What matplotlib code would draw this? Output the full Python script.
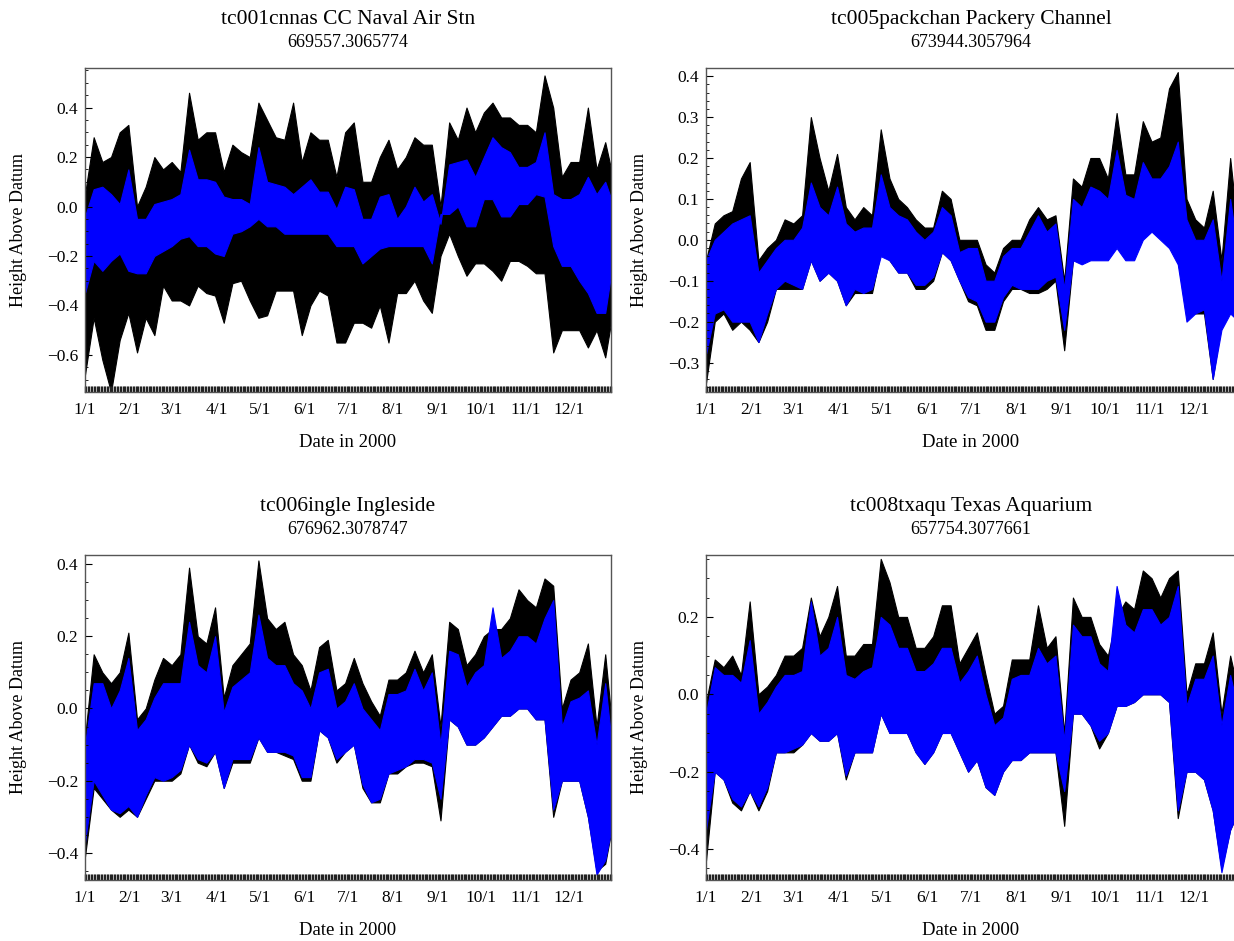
import numpy as np
import matplotlib
matplotlib.use("Agg")
import matplotlib.pyplot as plt
import matplotlib.dates as mdates
from matplotlib.ticker import MultipleLocator, FuncFormatter

plt.rcParams['font.family'] = ['Liberation Serif', 'DejaVu Serif']

# sample days (every 6 days from 1 Jan 2000), envelopes
days = np.arange(0, 367, 6)

stations = ["tc001cnnas CC Naval Air Stn", "tc005packchan Packery Channel",
            "tc006ingle Ingleside", "tc008txaqu Texas Aquarium"]
coords = ["669557.3065774", "673944.3057964", "676962.3078747", "657754.3077661"]

# --- tc001 ---
cc_black_hi = [0.05, 0.28, 0.18, 0.2, 0.3, 0.33, 0.0, 0.08, 0.2, 0.15, 0.18, 0.14, 0.46, 0.27,
               0.3, 0.3, 0.14, 0.25, 0.22, 0.2, 0.42, 0.35, 0.28, 0.27, 0.42, 0.18, 0.3, 0.27,
               0.27, 0.12, 0.3, 0.34, 0.1, 0.1, 0.2, 0.27, 0.15, 0.2, 0.28, 0.25, 0.25, 0.0,
               0.34, 0.27, 0.4, 0.3, 0.38, 0.42, 0.36, 0.36, 0.33, 0.33, 0.3, 0.53, 0.4, 0.12,
               0.18, 0.18, 0.4, 0.15, 0.26, 0.1]
cc_black_lo = [-0.68, -0.45, -0.62, -0.75, -0.54, -0.43, -0.59, -0.45, -0.52, -0.32, -0.38, -0.38,
               -0.4, -0.32, -0.35, -0.36, -0.47, -0.31, -0.3, -0.38, -0.45, -0.44, -0.34, -0.34,
               -0.34, -0.52, -0.4, -0.34, -0.36, -0.55, -0.55, -0.47, -0.47, -0.49, -0.4, -0.55,
               -0.35, -0.35, -0.3, -0.38, -0.43, -0.2, -0.11, -0.2, -0.28, -0.23, -0.23, -0.26,
               -0.3, -0.22, -0.22, -0.24, -0.27, -0.27, -0.59, -0.5, -0.5, -0.5, -0.57, -0.5,
               -0.61, -0.4]
cc_blue_hi = [-0.04, 0.07, 0.08, 0.05, 0.01, 0.15, -0.05, -0.05, 0.01, 0.02, 0.03, 0.05, 0.23, 0.11,
              0.11, 0.1, 0.04, 0.03, 0.03, 0.01, 0.24, 0.1, 0.09, 0.08, 0.05, 0.08, 0.11, 0.06,
              0.06, -0.01, 0.08, 0.07, -0.05, -0.05, 0.04, 0.05, -0.05, 0.0, 0.08, 0.02, 0.05,
              -0.07, 0.17, 0.18, 0.19, 0.12, 0.2, 0.28, 0.24, 0.22, 0.16, 0.16, 0.18, 0.3, 0.05,
              0.03, 0.03, 0.05, 0.12, 0.05, 0.1, 0.0]
cc_blue_lo = [-0.35, -0.22, -0.26, -0.22, -0.19, -0.26, -0.27, -0.27, -0.2, -0.18, -0.16, -0.13,
              -0.12, -0.16, -0.16, -0.19, -0.2, -0.11, -0.1, -0.08, -0.05, -0.08, -0.08, -0.11,
              -0.11, -0.11, -0.11, -0.11, -0.11, -0.16, -0.16, -0.16, -0.23, -0.2, -0.17, -0.16,
              -0.16, -0.16, -0.16, -0.16, -0.23, -0.03, -0.03, 0.0, -0.08, -0.08, 0.03, 0.03,
              -0.04, -0.04, 0.01, 0.01, 0.05, 0.04, -0.16, -0.24, -0.24, -0.3, -0.35, -0.43,
              -0.43, -0.2]

# --- tc005 ---
pc_black_hi = [-0.05, 0.04, 0.06, 0.07, 0.15, 0.19, -0.05, -0.02, 0.0, 0.05, 0.04, 0.06, 0.3, 0.2,
               0.12, 0.21, 0.08, 0.05, 0.08, 0.06, 0.27, 0.15, 0.1, 0.08, 0.05, 0.03, 0.03, 0.12,
               0.1, 0.0, 0.0, 0.0, -0.06, -0.08, -0.02, 0.0, 0.0, 0.05, 0.08, 0.05, 0.06, -0.1,
               0.15, 0.13, 0.2, 0.2, 0.15, 0.31, 0.16, 0.16, 0.29, 0.24, 0.25, 0.37, 0.41, 0.1,
               0.05, 0.03, 0.12, -0.05, 0.2, 0.0]
pc_black_lo = [-0.35, -0.2, -0.18, -0.22, -0.2, -0.22, -0.25, -0.2, -0.12, -0.12, -0.12, -0.12,
               -0.05, -0.1, -0.08, -0.1, -0.16, -0.13, -0.13, -0.13, -0.03, -0.05, -0.08, -0.08,
               -0.12, -0.12, -0.1, -0.03, -0.05, -0.1, -0.15, -0.16, -0.22, -0.22, -0.15, -0.12,
               -0.12, -0.13, -0.13, -0.12, -0.1, -0.27, -0.05, -0.05, -0.03, -0.03, -0.04, 0.0,
               -0.04, -0.04, 0.03, 0.04, 0.03, 0.0, -0.05, -0.18, -0.18, -0.18, -0.34, -0.2,
               -0.15, -0.15]
pc_blue_hi = [-0.05, 0.0, 0.02, 0.04, 0.05, 0.06, -0.08, -0.05, -0.02, 0.0, 0.0, 0.03, 0.14, 0.08,
              0.06, 0.13, 0.04, 0.02, 0.03, 0.03, 0.16, 0.08, 0.06, 0.05, 0.02, 0.0, 0.02, 0.08,
              0.06, -0.03, -0.02, -0.02, -0.1, -0.1, -0.04, -0.02, -0.02, 0.02, 0.06, 0.02, 0.04,
              -0.12, 0.1, 0.08, 0.13, 0.12, 0.1, 0.22, 0.11, 0.1, 0.19, 0.15, 0.15, 0.18, 0.24,
              0.05, 0.0, 0.0, 0.05, -0.1, 0.1, -0.05]
pc_blue_lo = [-0.28, -0.18, -0.17, -0.2, -0.2, -0.2, -0.25, -0.18, -0.12, -0.1, -0.11, -0.12,
              -0.05, -0.1, -0.08, -0.1, -0.16, -0.12, -0.13, -0.12, -0.04, -0.05, -0.08, -0.08,
              -0.11, -0.11, -0.09, -0.03, -0.05, -0.1, -0.14, -0.15, -0.2, -0.2, -0.14, -0.11,
              -0.12, -0.12, -0.12, -0.1, -0.09, -0.22, -0.05, -0.06, -0.05, -0.05, -0.05, -0.02,
              -0.05, -0.05, 0.0, 0.02, 0.0, -0.02, -0.06, -0.2, -0.18, -0.17, -0.34, -0.22,
              -0.18, -0.2]

# --- tc006 ---
ig_black_hi = [-0.08, 0.15, 0.1, 0.07, 0.1, 0.21, -0.03, 0.0, 0.08, 0.14, 0.12, 0.15, 0.39, 0.2,
               0.18, 0.28, 0.03, 0.12, 0.15, 0.18, 0.41, 0.25, 0.22, 0.24, 0.15, 0.12, 0.05, 0.17,
               0.19, 0.05, 0.07, 0.14, 0.07, 0.02, -0.02, 0.08, 0.08, 0.1, 0.16, 0.1, 0.15, -0.05,
               0.24, 0.22, 0.12, 0.15, 0.2, 0.22, 0.22, 0.25, 0.33, 0.3, 0.28, 0.36, 0.34, 0.0,
               0.08, 0.1, 0.18, -0.05, 0.15, -0.1]
ig_black_lo = [-0.41, -0.22, -0.25, -0.28, -0.3, -0.28, -0.3, -0.25, -0.2, -0.2, -0.2, -0.18,
               -0.1, -0.15, -0.16, -0.12, -0.22, -0.15, -0.15, -0.15, -0.08, -0.12, -0.12, -0.13,
               -0.14, -0.2, -0.2, -0.06, -0.08, -0.15, -0.12, -0.1, -0.22, -0.26, -0.26, -0.18,
               -0.18, -0.16, -0.15, -0.15, -0.16, -0.31, -0.03, -0.05, -0.1, -0.1, -0.08, -0.05,
               -0.02, -0.02, 0.0, 0.0, -0.03, -0.03, -0.3, -0.2, -0.2, -0.2, -0.3, -0.45, -0.43,
               -0.3]
ig_blue_hi = [-0.1, 0.07, 0.07, 0.0, 0.05, 0.14, -0.06, -0.03, 0.03, 0.07, 0.07, 0.07, 0.24, 0.12,
              0.1, 0.2, -0.01, 0.06, 0.08, 0.1, 0.26, 0.14, 0.12, 0.12, 0.07, 0.05, 0.0, 0.1,
              0.11, 0.0, 0.02, 0.07, 0.0, -0.03, -0.06, 0.04, 0.04, 0.05, 0.11, 0.05, 0.1, -0.1,
              0.16, 0.15, 0.06, 0.1, 0.12, 0.28, 0.14, 0.16, 0.2, 0.2, 0.18, 0.25, 0.3, -0.05,
              0.02, 0.03, 0.05, -0.1, 0.07, -0.15]
ig_blue_lo = [-0.37, -0.2, -0.24, -0.28, -0.29, -0.27, -0.3, -0.24, -0.19, -0.2, -0.19, -0.17,
              -0.1, -0.14, -0.15, -0.12, -0.22, -0.14, -0.14, -0.14, -0.08, -0.12, -0.12, -0.12,
              -0.13, -0.19, -0.19, -0.06, -0.08, -0.14, -0.12, -0.1, -0.21, -0.26, -0.25, -0.18,
              -0.17, -0.16, -0.14, -0.14, -0.15, -0.25, -0.03, -0.05, -0.1, -0.1, -0.08, -0.05,
              -0.02, -0.02, 0.0, 0.0, -0.03, -0.03, -0.28, -0.2, -0.2, -0.2, -0.3, -0.46, -0.42,
              -0.3]

# --- tc008 ---
ta_black_hi = [-0.02, 0.09, 0.07, 0.1, 0.05, 0.24, 0.0, 0.02, 0.05, 0.1, 0.1, 0.12, 0.25, 0.15,
               0.2, 0.28, 0.1, 0.1, 0.13, 0.13, 0.35, 0.29, 0.2, 0.2, 0.12, 0.12, 0.15, 0.23, 0.23,
               0.08, 0.12, 0.16, 0.05, -0.05, -0.03, 0.09, 0.09, 0.09, 0.23, 0.12, 0.15, -0.1,
               0.25, 0.2, 0.2, 0.13, 0.1, 0.2, 0.24, 0.22, 0.32, 0.3, 0.25, 0.3, 0.32, 0.0, 0.08,
               0.08, 0.16, -0.05, 0.1, 0.0]
ta_black_lo = [-0.43, -0.2, -0.22, -0.28, -0.3, -0.25, -0.3, -0.25, -0.15, -0.15, -0.15, -0.13,
               -0.1, -0.12, -0.12, -0.1, -0.22, -0.15, -0.15, -0.15, -0.05, -0.1, -0.1, -0.1,
               -0.15, -0.18, -0.15, -0.1, -0.1, -0.15, -0.2, -0.17, -0.24, -0.26, -0.2, -0.17,
               -0.17, -0.15, -0.15, -0.15, -0.15, -0.34, -0.05, -0.05, -0.08, -0.14, -0.1, -0.03,
               -0.03, -0.02, 0.0, 0.0, 0.0, -0.02, -0.32, -0.2, -0.2, -0.22, -0.3, -0.45, -0.35,
               -0.3]
ta_blue_hi = [-0.05, 0.07, 0.05, 0.05, 0.03, 0.14, -0.05, -0.02, 0.02, 0.05, 0.05, 0.06, 0.24, 0.1,
              0.12, 0.2, 0.05, 0.04, 0.06, 0.07, 0.2, 0.18, 0.12, 0.12, 0.06, 0.06, 0.08, 0.12,
              0.12, 0.03, 0.06, 0.1, 0.0, -0.08, -0.06, 0.04, 0.05, 0.05, 0.12, 0.08, 0.1, -0.12,
              0.18, 0.15, 0.15, 0.08, 0.06, 0.28, 0.18, 0.16, 0.22, 0.22, 0.18, 0.2, 0.28, -0.03,
              0.04, 0.04, 0.1, -0.08, 0.05, -0.05]
ta_blue_lo = [-0.35, -0.2, -0.22, -0.27, -0.29, -0.25, -0.29, -0.24, -0.15, -0.15, -0.14, -0.13,
              -0.1, -0.12, -0.12, -0.1, -0.21, -0.15, -0.15, -0.15, -0.05, -0.1, -0.1, -0.1,
              -0.15, -0.18, -0.15, -0.1, -0.1, -0.15, -0.2, -0.17, -0.24, -0.26, -0.2, -0.17,
              -0.17, -0.15, -0.15, -0.15, -0.15, -0.25, -0.05, -0.05, -0.08, -0.12, -0.1, -0.03,
              -0.03, -0.02, 0.0, 0.0, 0.0, -0.02, -0.3, -0.2, -0.2, -0.22, -0.3, -0.46, -0.35,
              -0.3]

black_hi = [cc_black_hi, pc_black_hi, ig_black_hi, ta_black_hi]
black_lo = [cc_black_lo, pc_black_lo, ig_black_lo, ta_black_lo]
blue_hi = [cc_blue_hi, pc_blue_hi, ig_blue_hi, ta_blue_hi]
blue_lo = [cc_blue_lo, pc_blue_lo, ig_blue_lo, ta_blue_lo]

ylims = [(-0.75, 0.56), (-0.372, 0.42), (-0.475, 0.425), (-0.48, 0.36)]
ymajor = [0.2, 0.1, 0.2, 0.2]
yminor = [0.05, 0.02, 0.05, 0.05]

W, H = 1234, 941
# axes boxes in pixels: left, top, right, bottom
boxes = [(85, 68, 611, 392), (706, 68, 1236, 392),
         (85, 555, 611, 880), (706, 555, 1236, 880)]

dates = np.datetime64('2000-01-01') + days.astype('timedelta64[D]')


def md_fmt(x, pos):
    d = mdates.num2date(x)
    return f"{d.month}/{d.day}"


fig = plt.figure(figsize=(W / 100, H / 100), dpi=100)

for i in range(4):
    for arr in (black_hi[i], black_lo[i], blue_hi[i], blue_lo[i]):
        assert len(arr) == len(days), (i, len(arr))
    l, t, r, b = boxes[i]
    ax = fig.add_axes([l / W, 1 - b / H, (r - l) / W, (b - t) / H])

    ax.fill_between(dates, black_lo[i], black_hi[i], color='black', lw=0.8)
    ax.fill_between(dates, blue_lo[i], blue_hi[i], color='#0000ff', lw=0.8)

    ax.set_xlim(np.datetime64('2000-01-01'), np.datetime64('2000-12-30'))
    ax.set_ylim(*ylims[i])

    ax.xaxis.set_major_locator(mdates.MonthLocator())
    ax.xaxis.set_minor_locator(mdates.DayLocator())
    ax.xaxis.set_major_formatter(FuncFormatter(md_fmt))
    ax.yaxis.set_major_locator(MultipleLocator(ymajor[i]))
    ax.yaxis.set_minor_locator(MultipleLocator(yminor[i]))
    ax.yaxis.set_major_formatter(FuncFormatter(lambda v, p: f"{v:.1f}".replace('-', '\u2212')))

    ax.tick_params(axis='x', which='both', direction='in', length=4.5, width=1.0,
                   color='#222222', labelsize=12.5, pad=7, top=False)
    ax.tick_params(axis='y', which='major', direction='in', length=5, width=0.8,
                   labelsize=12.5, pad=5, right=False)
    ax.tick_params(axis='y', which='minor', direction='in', length=2.5, width=0.6, right=False)

    for s in ax.spines.values():
        s.set_color('#555555')
        s.set_linewidth(1.0)

    ax.set_xlabel("Date in 2000", fontsize=13.5)
    ax.xaxis.set_label_coords(0.5, -42 / (b - t))
    ax.set_ylabel("Height Above Datum", fontsize=13)
    ax.yaxis.set_label_coords(-58 / (r - l), 0.5)

    ax.annotate(stations[i], xy=(0.5, 1), xycoords='axes fraction', xytext=(0, 49 * 0.72),
                textcoords='offset points', ha='center', va='center', fontsize=15.5)
    ax.annotate(coords[i], xy=(0.5, 1), xycoords='axes fraction', xytext=(0, 26 * 0.72),
                textcoords='offset points', ha='center', va='center', fontsize=13)

fig.savefig("out.png", dpi=100)
